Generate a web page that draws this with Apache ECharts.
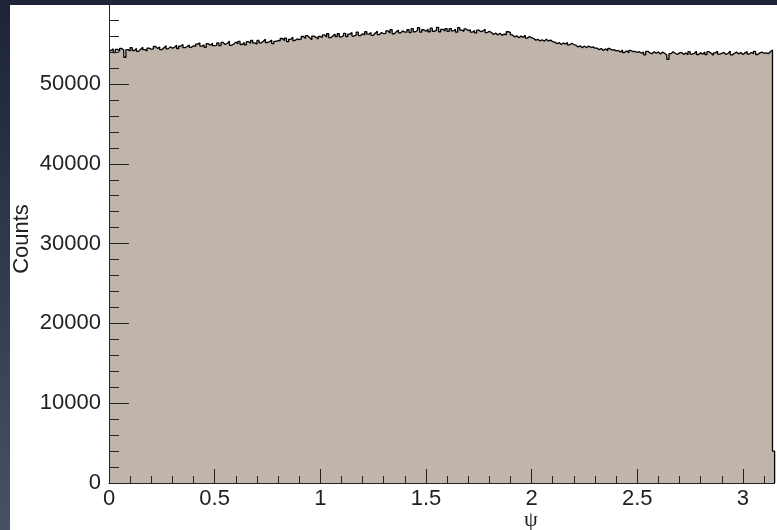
<!DOCTYPE html>
<html>
<head>
<meta charset="utf-8">
<script src="https://cdn.jsdelivr.net/npm/echarts@6/dist/echarts.min.js"></script>
<style>
  html, body { margin: 0; padding: 0; }
  #chart { width: 777px; height: 530px; background: linear-gradient(to bottom, #1c2436, #465264); }
</style>
</head>
<body>
<div id="chart"></div>
<script>
// Histogram of psi: 0.01-wide bins from 0 to 3.15
const binLow = 0;
const binWidth = 0.01;
const counts = [
  54200, 54400, 53950, 54350, 54100, 54450, 54250, 53350, 54300, 54150,
  54550, 54200, 54450, 54100, 54350, 54600, 54300, 54150, 54500, 54350,
  54400, 54700, 54450, 54650, 54300, 54550, 54800, 54400, 54650, 54500,
  54600, 54850, 54450, 54750, 54950, 54550, 54700, 54900, 54600, 54800,
  54700, 55000, 55150, 54750, 54900, 54600, 55050, 54850, 55100, 54800,
  54850, 55150, 54800, 55200, 54950, 55100, 55350, 54850, 55000, 55250,
  55050, 55350, 54950, 55200, 54900, 55300, 55100, 55450, 55150, 55000,
  55450, 55150, 55350, 55600, 55200, 55300, 55500, 55050, 55350, 55450,
  55400, 55700, 55450, 55750, 55300, 55600, 55850, 55450, 55650, 55550,
  55650, 55950, 55700, 56050, 55800, 55550, 56000, 55850, 55650, 55950,
  55850, 56150, 55900, 56300, 55800, 56050, 56250, 55950, 56300, 55900,
  56050, 56350, 55950, 56250, 56450, 56000, 56150, 56500, 56050, 56300,
  56150, 56550, 56250, 56450, 56100, 56350, 56600, 56200, 56450, 56300,
  56350, 56650, 56400, 56800, 56300, 56550, 56750, 56400, 56650, 56500,
  56500, 56800, 56450, 56950, 56550, 56700, 57050, 56500, 56800, 56600,
  56850, 56550, 57000, 56600, 56750, 57100, 56550, 56850, 56650, 56950,
  56600, 56950, 56650, 56850, 56500, 57050, 56750, 56600, 56900, 56700,
  56800, 56500, 56700, 56400, 56750, 56550, 56650, 56850, 56450, 56600,
  56450, 56200, 56400, 56150, 56350, 56100, 56250, 56150, 56550, 56450,
  56150, 55900, 56050, 55800, 56000, 55850, 56100, 55750, 55950, 55800,
  55700, 55500, 55600, 55400, 55550, 55350, 55600, 55400, 55500, 55300,
  55250, 55050, 55200, 54950, 55150, 55000, 55200, 54900, 55100, 54950,
  54850, 54650, 54800, 54550, 54750, 54550, 54750, 54600, 54650, 54500,
  54500, 54300, 54450, 54200, 54400, 54150, 54450, 54250, 54300, 54150,
  54200, 54000, 54250, 53950, 54150, 53900, 54200, 54050, 54100, 53950,
  54050, 53850, 54000, 53650, 54100, 53900, 53800, 54050, 53850, 54000,
  53750, 54000, 53850, 53600, 53100, 53800, 54050, 53850, 53700, 53900,
  53950, 53700, 53900, 53650, 54050, 53750, 53850, 54100, 53700, 53900,
  53750, 54000, 53700, 54050, 53850, 53600, 53900, 54100, 53750, 53850,
  53950, 53700, 53850, 54100, 53650, 53850, 54000, 53750, 53950, 53700,
  53900, 54050, 53750, 53950, 53800, 54100, 53700, 53900, 54000, 53850,
  53900, 53800, 54050, 54250, 4000
];
const xMajorTicks = [0, 0.5, 1, 1.5, 2, 2.5, 3];
const xMinorTicks = [0.1, 0.2, 0.3, 0.4, 0.6, 0.7, 0.8, 0.9, 1.1, 1.2, 1.3, 1.4,
  1.6, 1.7, 1.8, 1.9, 2.1, 2.2, 2.3, 2.4, 2.6, 2.7, 2.8, 2.9, 3.1];
const yMajorTicks = [0, 10000, 20000, 30000, 40000, 50000];
const yMinorTicks = [2000, 4000, 6000, 8000, 12000, 14000, 16000, 18000,
  22000, 24000, 26000, 28000, 32000, 34000, 36000, 38000,
  42000, 44000, 46000, 48000, 52000, 54000, 56000, 58000];
const xMax = 3.15;
const yMax = 59900;

// step outline: one point per bin low edge, closed at the upper edge
const stepData = counts.map((c, i) => [+(binLow + i * binWidth).toFixed(2), c]);
stepData.push([xMax, counts[counts.length - 1]]);
stepData.push([xMax, 0]);

const font = 'Liberation Sans, Arial, Helvetica, sans-serif';
const axisCol = '#222';

const chart = echarts.init(document.getElementById('chart'), null, { renderer: 'canvas' });
chart.setOption({
  backgroundColor: 'transparent',
  animation: false,
  graphic: [
    { type: 'rect', z: -100, shape: { x: 10, y: 5, width: 767, height: 525 }, style: { fill: '#ffffff' } },
    { type: 'text', x: 22, y: 239, rotation: Math.PI / 2,
      style: { text: 'Counts', font: '22px ' + font, fill: axisCol, align: 'center', verticalAlign: 'middle' } },
    { type: 'text', x: 531, y: 520,
      style: { text: 'ψ', font: '22px Liberation Serif, DejaVu Serif, serif', fill: axisCol, align: 'center', verticalAlign: 'middle' } }
  ],
  grid: { left: 109, right: 2.4, top: 5, bottom: 47, containLabel: false },
  xAxis: [
    {
      type: 'value', min: 0, max: xMax, position: 'bottom', z: 10,
      axisLine: { show: true, onZero: false, lineStyle: { color: axisCol, width: 1 } },
      axisTick: { show: true, inside: true, length: 14, customValues: xMajorTicks, lineStyle: { color: axisCol } },
      axisLabel: { customValues: xMajorTicks, fontFamily: font, fontSize: 22, color: axisCol, margin: 5,
        formatter: v => String(v) },
      splitLine: { show: false }
    },
    {
      type: 'value', min: 0, max: xMax, position: 'bottom', z: 10,
      axisLine: { show: false, onZero: false },
      axisTick: { show: true, inside: true, length: 7, customValues: xMinorTicks, lineStyle: { color: axisCol } },
      axisLabel: { show: false },
      splitLine: { show: false }
    }
  ],
  yAxis: [
    {
      type: 'value', min: 0, max: yMax, position: 'left', z: 10,
      axisLine: { show: true, onZero: false, lineStyle: { color: axisCol, width: 1 } },
      axisTick: { show: true, inside: true, length: 20, customValues: yMajorTicks, lineStyle: { color: axisCol } },
      axisLabel: { customValues: yMajorTicks, fontFamily: font, fontSize: 22, color: axisCol, margin: 8,
        formatter: v => String(v) },
      splitLine: { show: false }
    },
    {
      type: 'value', min: 0, max: yMax, position: 'left', z: 10,
      axisLine: { show: false, onZero: false },
      axisTick: { show: true, inside: true, length: 10, customValues: yMinorTicks, lineStyle: { color: axisCol } },
      axisLabel: { show: false },
      splitLine: { show: false }
    }
  ],
  series: [{
    type: 'line',
    xAxisIndex: 0,
    yAxisIndex: 0,
    step: 'end',
    data: stepData,
    showSymbol: false,
    symbol: 'none',
    clip: true,
    lineStyle: { color: '#000000', width: 1.3 },
    areaStyle: { color: '#c0b5ab', opacity: 1 },
    z: 1
  }]
});
</script>
</body>
</html>
